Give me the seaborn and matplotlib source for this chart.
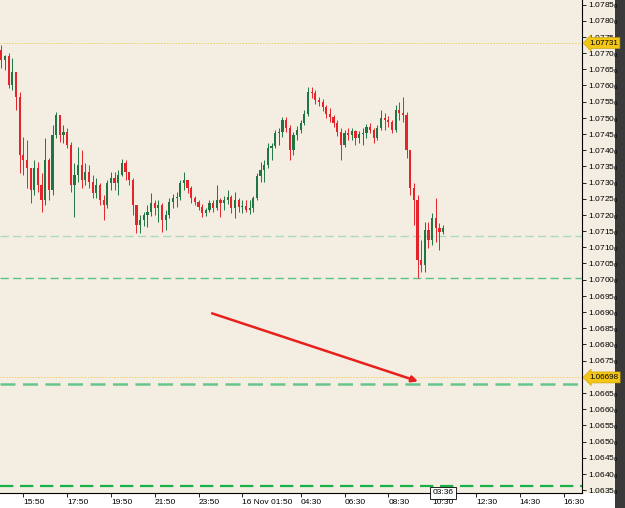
import numpy as np
import pandas as pd
import matplotlib
matplotlib.use("Agg")
import matplotlib.pyplot as plt
import matplotlib.transforms as mtransforms
from matplotlib.patches import Rectangle
import seaborn as sns

# EURUSD-like 10 minute candles, 15 Nov 14:50 -> 16 Nov 11:00 (open = previous close)
first_open = 1.07709
close = [1.07679, 1.07691, 1.07601, 1.07642, 1.07564, 1.07385, 1.07370, 1.07345, 1.07277, 1.07345,
         1.07292, 1.07246, 1.07370, 1.07277, 1.07447, 1.07509, 1.07447, 1.07456, 1.07416, 1.07292,
         1.07323, 1.07354, 1.07308, 1.07333, 1.07302, 1.07268, 1.07292, 1.07246, 1.07231, 1.07299,
         1.07314, 1.07299, 1.07323, 1.07360, 1.07333, 1.07308, 1.07231, 1.07169, 1.07184, 1.07200,
         1.07209, 1.07237, 1.07221, 1.07231, 1.07184, 1.07200, 1.07240, 1.07252, 1.07255, 1.07299,
         1.07308, 1.07283, 1.07252, 1.07240, 1.07224, 1.07206, 1.07215, 1.07237, 1.07221, 1.07246,
         1.07237, 1.07246, 1.07255, 1.07221, 1.07246, 1.07224, 1.07227, 1.07215, 1.07221, 1.07252,
         1.07320, 1.07339, 1.07354, 1.07407, 1.07413, 1.07453, 1.07456, 1.07493, 1.07469, 1.07401,
         1.07447, 1.07462, 1.07484, 1.07512, 1.07580, 1.07577, 1.07555, 1.07549, 1.07533, 1.07512,
         1.07502, 1.07484, 1.07456, 1.07416, 1.07453, 1.07447, 1.07459, 1.07438, 1.07450, 1.07453,
         1.07472, 1.07462, 1.07438, 1.07469, 1.07499, 1.07493, 1.07487, 1.07462, 1.07524, 1.07515,
         1.07509, 1.07401, 1.07283, 1.07246, 1.07061, 1.07045, 1.07153, 1.07122, 1.07190, 1.07160,
         1.07147, 1.07160]
high = [1.07725, 1.07694, 1.07700, 1.07685, 1.07642, 1.07580, 1.07441, 1.07431, 1.07345, 1.07370,
        1.07363, 1.07329, 1.07438, 1.07376, 1.07478, 1.07518, 1.07509, 1.07478, 1.07469, 1.07425,
        1.07360, 1.07410, 1.07401, 1.07360, 1.07354, 1.07323, 1.07314, 1.07299, 1.07261, 1.07308,
        1.07333, 1.07333, 1.07339, 1.07373, 1.07370, 1.07333, 1.07314, 1.07231, 1.07200, 1.07209,
        1.07231, 1.07268, 1.07246, 1.07246, 1.07237, 1.07215, 1.07252, 1.07265, 1.07271, 1.07308,
        1.07333, 1.07308, 1.07289, 1.07258, 1.07246, 1.07234, 1.07221, 1.07246, 1.07246, 1.07292,
        1.07252, 1.07258, 1.07277, 1.07261, 1.07271, 1.07252, 1.07246, 1.07246, 1.07246, 1.07258,
        1.07329, 1.07363, 1.07370, 1.07422, 1.07422, 1.07462, 1.07469, 1.07502, 1.07502, 1.07478,
        1.07456, 1.07475, 1.07493, 1.07524, 1.07595, 1.07595, 1.07586, 1.07564, 1.07558, 1.07540,
        1.07530, 1.07509, 1.07493, 1.07469, 1.07462, 1.07469, 1.07469, 1.07462, 1.07459, 1.07469,
        1.07481, 1.07484, 1.07469, 1.07478, 1.07524, 1.07515, 1.07506, 1.07493, 1.07540, 1.07549,
        1.07564, 1.07518, 1.07401, 1.07299, 1.07261, 1.07122, 1.07178, 1.07178, 1.07206, 1.07252,
        1.07175, 1.07169]
low = [1.07654, 1.07648, 1.07592, 1.07586, 1.07524, 1.07329, 1.07323, 1.07283, 1.07237, 1.07261,
       1.07271, 1.07209, 1.07231, 1.07246, 1.07261, 1.07438, 1.07425, 1.07422, 1.07407, 1.07271,
       1.07193, 1.07302, 1.07283, 1.07292, 1.07283, 1.07252, 1.07252, 1.07231, 1.07184, 1.07221,
       1.07277, 1.07277, 1.07261, 1.07320, 1.07308, 1.07292, 1.07200, 1.07144, 1.07144, 1.07166,
       1.07163, 1.07197, 1.07200, 1.07178, 1.07147, 1.07153, 1.07190, 1.07221, 1.07224, 1.07246,
       1.07277, 1.07268, 1.07237, 1.07231, 1.07215, 1.07193, 1.07197, 1.07209, 1.07209, 1.07215,
       1.07193, 1.07215, 1.07234, 1.07206, 1.07190, 1.07209, 1.07206, 1.07209, 1.07203, 1.07209,
       1.07246, 1.07302, 1.07302, 1.07345, 1.07370, 1.07407, 1.07416, 1.07441, 1.07456, 1.07370,
       1.07385, 1.07431, 1.07453, 1.07478, 1.07506, 1.07561, 1.07543, 1.07536, 1.07521, 1.07499,
       1.07487, 1.07472, 1.07444, 1.07370, 1.07410, 1.07431, 1.07431, 1.07416, 1.07422, 1.07416,
       1.07438, 1.07453, 1.07422, 1.07431, 1.07462, 1.07462, 1.07472, 1.07453, 1.07456, 1.07493,
       1.07487, 1.07376, 1.07261, 1.07169, 1.07005, 1.07024, 1.07024, 1.07098, 1.07107, 1.07116,
       1.07092, 1.07141]

# horizontal levels
price_marks = [1.07731, 1.06698]
green_levels = [1.07134, 1.07004, 1.06679, 1.06364]
green_colors = ["#aadcb8", "#5cc483", "#66c58a", "#19b048"]
green_widths = [1.0, 1.0, 1.8, 1.6]

time_labels = ["15:50", "17:50", "19:50", "21:50", "23:50", "16 Nov 01:50", "04:30",
               "06:30", "08:30", "10:30", "12:30", "14:30", "16:30"]
countdown = "03:36"

# arrow (start/end in hours from 15:50 and price)
arrow_from = (8.62, 1.06896)
arrow_to = (18.02, 1.06686)


def label_hours(labels):
    # hours after 15 Nov 15:50, rolling to the next day when the clock wraps
    out, day, prev = [], 0, -1
    for lab in labels:
        h, m = map(int, lab.split()[-1].split(":"))
        v = h + m / 60
        if v < prev:
            day += 24
        prev = v
        out.append(v + day - (15 + 50 / 60))
    return out


df = pd.DataFrame({"close": close, "high": high, "low": low})
df["open"] = [first_open] + close[:-1]
df["t"] = -1.0 + np.arange(len(df)) / 6.0
df["high"] = df[["high", "open", "close"]].max(axis=1)
df["low"] = df[["low", "open", "close"]].min(axis=1)
df["up"] = df["close"] >= df["open"]

BG = "#f4eee2"
BULL = "#1e7743"
BEAR = "#e5232a"

sns.set_theme(style="ticks")
plt.rcParams["font.family"] = ["Liberation Sans", "DejaVu Sans"]
plt.rcParams["mathtext.fontset"] = "custom"
plt.rcParams["mathtext.rm"] = "Liberation Sans"
plt.rcParams["mathtext.default"] = "regular"

fig = plt.figure(figsize=(6.25, 5.08), dpi=100)
fig.patch.set_facecolor(BG)
fig.patches.append(Rectangle((0, 0), 615 / 625, 15 / 508, transform=fig.transFigure,
                             facecolor="white", edgecolor="none", zorder=-5))
fig.patches.append(Rectangle((615 / 625, 0), 10 / 625, 1, transform=fig.transFigure,
                             facecolor="#3a3a3a", edgecolor="none", zorder=-5))

ax = fig.add_axes([0, 15 / 508, 582 / 625, 493 / 508])
ax.set_facecolor(BG)

ymin, ymax = 1.06341, 1.07864
ax.set_xlim(-1.064, 25.51)
ax.set_ylim(ymin, ymax)

# levels
for p in price_marks:
    ax.axhline(p, color="#f0cf62", lw=0.7, ls=(0, (1.5, 1.5)), zorder=1)
for p, c, w in zip(green_levels, green_colors, green_widths):
    ax.axhline(p, color=c, lw=w, ls=(0, (6, 3)), zorder=1)

# candles
cols = np.where(df["up"], BULL, BEAR)
ax.vlines(df["t"], df["low"], df["high"], colors=cols, lw=0.7, zorder=3)
body = np.maximum((df["close"] - df["open"]).abs(), 0.00002)
ax.bar(df["t"], body, bottom=df[["open", "close"]].min(axis=1), width=0.1,
       color=cols, linewidth=0, zorder=4)

# arrow
ax.annotate("", xy=arrow_to, xytext=arrow_from,
            arrowprops=dict(arrowstyle="-|>", color="#e8201c", lw=1.8,
                            mutation_scale=9, shrinkA=0, shrinkB=0), zorder=5)

# axes look
for s in ["top", "left"]:
    ax.spines[s].set_visible(False)
ax.spines["right"].set_color("black")
ax.spines["bottom"].set_color("black")
ax.spines["right"].set_linewidth(0.8)
ax.spines["bottom"].set_linewidth(0.8)

# price scale; 1.0670 sits under the 1.06698 marker so it is not written
yt = np.round(np.arange(1.0635, 1.07851, 0.0005), 4)
ax.yaxis.tick_right()
ax.set_yticks(yt)
ax.set_yticklabels(["" if abs(v - 1.0670) < 1e-6 else f"{v:.4f}$_0$" for v in yt])
ax.tick_params(axis="y", length=3, width=0.6, pad=1, labelsize=6, colors="black")

ax.set_xticks(label_hours(time_labels))
ax.set_xticklabels(time_labels)
ax.tick_params(axis="x", length=3, width=0.6, pad=1, labelsize=6, colors="black")
plt.setp(ax.get_xticklabels(), ha="left")

# price labels on the right scale
blend = mtransforms.blended_transform_factory(ax.transAxes, ax.transData)
for p in price_marks:
    ax.text(1.012, p, f"{p:.5f}", transform=blend, ha="left", va="center", fontsize=5.8,
            color="black", zorder=10, clip_on=False,
            bbox=dict(boxstyle="larrow,pad=0.25", fc="#f2c516", ec="#c8a000", lw=0.4))

# bar countdown on the time scale
blend_x = mtransforms.blended_transform_factory(ax.transData, ax.transAxes)
ax.text(df["t"].iloc[-1], 0.0, countdown, transform=blend_x, ha="center", va="center",
        fontsize=6, color="black", zorder=10, clip_on=False,
        bbox=dict(boxstyle="square,pad=0.3", fc="white", ec="black", lw=0.6))

plt.savefig("out.png", dpi=100, facecolor=fig.get_facecolor())
